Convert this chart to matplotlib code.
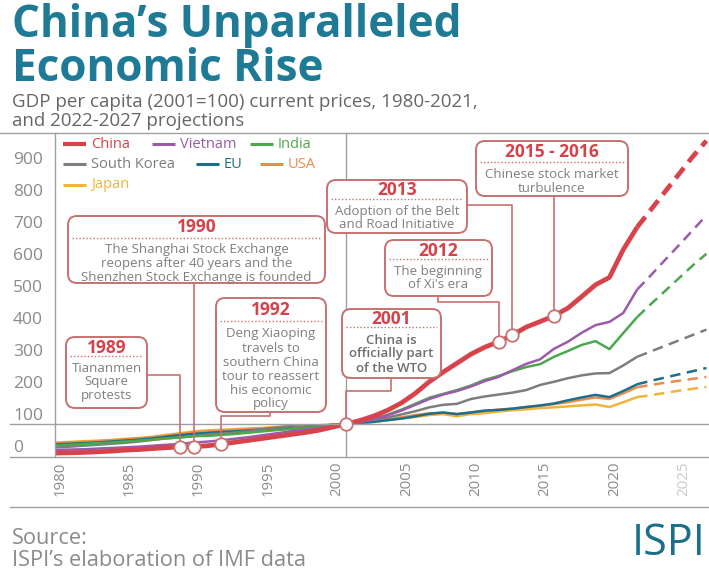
import matplotlib
matplotlib.use("Agg")
import matplotlib.pyplot as plt
from matplotlib.patches import FancyBboxPatch

# GDP per capita index (2001=100), 1980-2022 actual, 2022-2027 projections
years = list(range(1980, 2028))
china = [9, 10, 11, 13, 15, 18, 20, 23, 26, 28, 29, 32, 37, 43, 49, 55, 61, 67, 73, 80, 90,
         100, 111, 125, 143, 166, 196, 232, 262, 290, 318, 340, 357, 378, 403, 420, 438, 462,
         498, 535, 558, 645, 715, 770, 825, 880, 935, 985]
vietnam = [19, 20, 21, 23, 25, 27, 29, 32, 35, 38, 42, 45, 49, 54, 59, 65, 71, 77, 82, 88, 94,
           100, 106, 115, 127, 142, 160, 178, 192, 203, 217, 234, 247, 268, 288, 302, 335, 357,
           385, 409, 419, 447, 520, 565, 612, 658, 705, 752]
india = [33, 35, 37, 40, 42, 45, 48, 51, 55, 58, 62, 63, 66, 69, 73, 77, 81, 84, 88, 93, 96,
         100, 107, 117, 129, 145, 163, 182, 194, 206, 220, 238, 250, 265, 278, 287, 310, 328,
         347, 359, 334, 384, 434, 475, 515, 555, 595, 632]
korea = [27, 29, 32, 35, 38, 41, 45, 50, 55, 58, 62, 67, 70, 73, 78, 84, 89, 93, 89, 93, 98,
         100, 108, 113, 120, 130, 140, 152, 160, 163, 178, 186, 192, 198, 206, 222, 232, 243,
         252, 258, 259, 283, 310, 327, 344, 361, 378, 395]
eu = [36, 38, 40, 42, 45, 48, 51, 55, 60, 65, 69, 72, 75, 77, 80, 83, 86, 89, 91, 94, 97,
      100, 104, 107, 112, 117, 124, 132, 136, 131, 136, 142, 144, 148, 153, 158, 164, 174,
      183, 191, 184, 203, 224, 235, 245, 255, 265, 275]
usa = [40, 42, 44, 46, 49, 52, 55, 58, 63, 68, 74, 77, 79, 81, 84, 86, 89, 92, 94, 96, 98,
       100, 103, 107, 114, 121, 128, 133, 135, 131, 136, 140, 145, 148, 153, 157, 162, 168,
       176, 183, 178, 196, 215, 222, 229, 235, 241, 247]
japan = [42, 44, 46, 48, 50, 53, 56, 60, 66, 71, 77, 80, 82, 84, 86, 88, 91, 93, 93, 94, 97,
         100, 102, 106, 112, 117, 122, 128, 131, 124, 131, 134, 139, 143, 146, 150, 152, 155,
         158, 161, 153, 168, 184, 190, 197, 204, 210, 216]

names = ["China", "Vietnam", "India", "South Korea", "EU", "USA", "Japan"]
values = [china, vietnam, india, korea, eu, usa, japan]
colors = ["#d8434b", "#9a5ba8", "#4ba84d", "#7d7d7d", "#1c6f8b", "#ee8a4e", "#f0b43a"]

y_ticks = [0, 100, 200, 300, 400, 500, 600, 700, 800, 900]
x_ticks = [1980, 1985, 1990, 1995, 2000, 2005, 2010, 2015, 2020, 2025]

# annotated events on the China line
events = [1989, 1990, 1992, 2001, 2012, 2013, 2016]

W, H = 709, 576
GREY = "#8a8a8a"
LINE = "#a0a0a0"
TEAL = "#1f7a96"
RED = "#d6424a"
BOXC = "#c77170"
plt.rcParams["font.family"] = ["Open Sans", "DejaVu Sans"]

fig = plt.figure(figsize=(W / 100, H / 100), dpi=100)
ax = fig.add_axes([0, 1 - 457 / H, 1, (457 - 133) / H])
px_per_year = 13.86
ax.set_xlim(1980 - 55 / px_per_year, 1980 + (W - 55) / px_per_year)
ax.set_ylim((456 - 457) / 0.32, (456 - 133) / 0.32)
ax.axis("off")

split = years.index(2022)
for name, vals, col in reversed(list(zip(names, values, colors))):
    lw = 3.4 if name == "China" else 1.8
    dash = (2.8, 1.6) if name == "China" else (4.2, 2.6)
    z = 5 if name == "China" else 3
    ax.plot(years[:split + 1], vals[:split + 1], color=col, lw=lw, zorder=z,
            solid_capstyle="butt", solid_joinstyle="round")
    ax.plot(years[split:], vals[split:], color=col, lw=lw, zorder=z,
            linestyle=(0, dash), dash_capstyle="butt")

# overlay in pixel coordinates (origin top-left)
ov = fig.add_axes([0, 0, 1, 1], zorder=10)
ov.set_xlim(0, W)
ov.set_ylim(H, 0)
ov.axis("off")


def to_px(x, y):
    dx, dy = ax.transData.transform((x, y))
    return dx, H - dy


# frame lines
x2001 = to_px(2001, 0)[0]
x1980 = to_px(1980, 0)[0]
y100 = to_px(1980, 100)[1]
ov.plot([0, W], [133, 133], color=LINE, lw=1)
ov.plot([10, W], [457, 457], color=LINE, lw=1)
ov.plot([10, W], [507, 507], color=LINE, lw=1)
ov.plot([10, W], [y100, y100], color=LINE, lw=1, zorder=1)
ov.plot([x1980, x1980], [133, 457], color=LINE, lw=1)
ov.plot([x2001, x2001], [133, 457], color=LINE, lw=1)

# y tick labels
for v in y_ticks:
    ov.text(13, to_px(1980, v)[1] - 8, str(v), ha="left", va="center",
            fontsize=12.5, color=GREY)

# x tick labels
for yr in x_ticks:
    xx = to_px(yr, 0)[0] + 5
    ov.text(xx, 462, str(yr), rotation=90, ha="center", va="top", fontsize=10.8,
            color="#c8c8c8" if yr == 2025 else GREY)

# legend
legend_items = [("China", 63, 144), ("Vietnam", 152, 144), ("India", 250, 144),
                ("South Korea", 63, 164), ("EU", 196, 164), ("USA", 260, 164),
                ("Japan", 63, 185)]
for (lab, lx, ly), col in zip(legend_items, colors):
    ov.plot([lx, lx + 23], [ly, ly], color=col, lw=3 if lab == "China" else 2.2,
            solid_capstyle="butt")
    ov.text(lx + 28, ly, lab, ha="left", va="center", fontsize=10.5, color=col)


def note(x0, y0, x1, y1, title, lines, ty, sy, by, dy=14, weight="normal", color="#7f7f7f"):
    box = FancyBboxPatch((x0, y0), x1 - x0, y1 - y0,
                         boxstyle="round,pad=0,rounding_size=9",
                         fc="white", ec=BOXC, lw=1.4, zorder=6)
    ov.add_patch(box)
    cx = (x0 + x1) / 2
    ov.text(cx, ty, title, ha="center", va="center", fontsize=12.5, fontweight="bold",
            color=RED, zorder=7)
    ov.plot([x0 + 4, x1 - 4], [sy, sy], color=BOXC, lw=1, linestyle=(0, (1, 1.5)), zorder=7)
    for i, t in enumerate(lines):
        ov.text(cx, by + i * dy, t, ha="center", va="center", fontsize=9.5,
                fontweight=weight, color=color, zorder=7)


def connector(pts):
    xs, ys = zip(*pts)
    ov.plot(xs, ys, color=BOXC, lw=1.2, zorder=4)


pts = {yr: to_px(yr, china[years.index(yr)]) for yr in events}

# 1990
connector([(pts[1990][0], 282), pts[1990]])
note(68, 216, 325, 283, "1990",
     ["The Shanghai Stock Exchange", "reopens after 40 years and the",
      "Shenzhen Stock Exchange is founded"], 227, 238, 249)
# 1989
connector([(147, 375), (pts[1989][0], 375), pts[1989]])
note(66, 337, 147, 408, "1989", ["Tiananmen", "Square", "protests"], 348, 356, 368)
# 1992
connector([(270, 412), (270, 416), (pts[1992][0], 416), pts[1992]])
note(216, 298, 326, 412, "1992",
     ["Deng Xiaoping", "travels to", "southern China", "tour to reassert",
      "his economic", "policy"], 310, 321, 334)
# 2001
connector([(391, 378), (391, 391), (x2001, 391), pts[2001]])
note(342, 309, 441, 378, "2001", ["China is", "officially part", "of the WTO"],
     319, 327, 340, weight="semibold", color="#6e6e6e")
# 2013
connector([(467, 205), (pts[2013][0], 205), pts[2013]])
note(327, 180, 467, 233, "2013", ["Adoption of the Belt", "and Road Initiative"],
     190, 199, 211)
# 2012
connector([(438, 296), (438, 302), (pts[2012][0], 302), pts[2012]])
note(385, 240, 492, 296, "2012", ["The beginning", "of Xi's era"], 251, 259, 271)
# 2015-2016
connector([(pts[2016][0], 196), pts[2016]])
note(476, 141, 628, 196, "2015 - 2016", ["Chinese stock market", "turbulence"],
     152, 162, 174)

for yr in events:
    ov.plot(*pts[yr], marker="o", ms=9, mfc="white", mec=BOXC, mew=1.3, zorder=8)

# titles
fig.canvas.draw()
r = fig.canvas.get_renderer()
t1 = ov.text(12, 37, "China\u2019s Unparalleled", ha="left", va="baseline", fontsize=28,
             fontweight="bold", color=TEAL)
t2 = ov.text(12, 81, "Economic Rise", ha="left", va="baseline", fontsize=28,
             fontweight="bold", color=TEAL)
s1 = ov.text(12, 102, "GDP per capita (2001=100) current prices, 1980-2021,",
             ha="left", va="center", fontsize=12.5, color="#666666")
s2 = ov.text(12, 121, "and 2022-2027 projections", ha="left", va="center",
             fontsize=12.5, color="#666666")
src1 = ov.text(12, 539, "Source:", ha="left", va="center", fontsize=12, color=GREY)
src2 = ov.text(12, 560, "ISPI\u2019s elaboration of IMF data", ha="left", va="center",
               fontsize=12, color=GREY)
ov.text(706, 544, "ISPI", ha="right", va="center", fontsize=31, color="#1c6f8b")

for tx, others, width in [(t1, [t2], 450), (s1, [s2], 468), (src2, [src1], 292)]:
    bb = tx.get_window_extent(r)
    fs = tx.get_fontsize() * width / bb.width
    tx.set_fontsize(fs)
    for o in others:
        o.set_fontsize(fs)

fig.savefig("out.png", dpi=100)
